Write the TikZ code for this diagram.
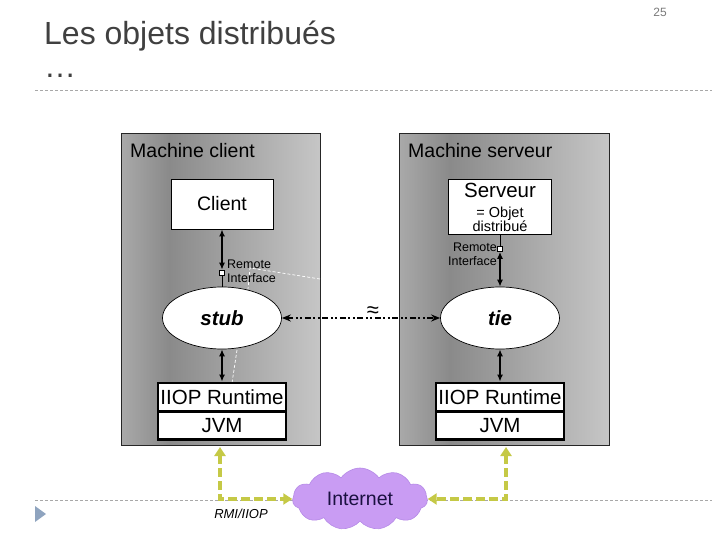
\documentclass[tikz,border=0pt]{standalone}
\usepackage{fontspec}
\setmainfont{Liberation Sans}
\usetikzlibrary{arrows.meta,shapes.geometric,shapes.symbols}
\definecolor{titlegray}{HTML}{404040}
\definecolor{numgray}{HTML}{7A7A7A}
\definecolor{sepgray}{HTML}{A8A8A8}
\definecolor{trigray}{HTML}{8FA4BF}
\definecolor{mA}{HTML}{A9A9A9}
\definecolor{mB}{HTML}{8A8A8A}
\definecolor{mC}{HTML}{C6C6C6}
\definecolor{gline}{HTML}{C5C946}
\definecolor{cloudc}{HTML}{C99CF3}
\definecolor{cloudd}{HTML}{B58AE6}
\definecolor{cloudtext}{HTML}{1A1040}
\pgfdeclarehorizontalshading{machineshade}{100bp}{color(0bp)=(mA); color(25bp)=(mA); color(37bp)=(mB); color(75bp)=(mC); color(100bp)=(mC)}
\newcommand{\myfs}[1]{\fontsize{#1}{#1}\selectfont}
\begin{document}
\begin{tikzpicture}[x=1pt,y=-1pt,
  sepline/.style={draw=sepgray,line width=0.7pt,dash pattern=on 3pt off 2pt},
  machine/.style={draw=black!85,line width=0.6pt,shading=machineshade,anchor=north west,inner sep=0},
  lbl/.style={inner sep=0,font=\myfs{19.5}},
  wbox/.style={draw=black,fill=white,line width=0.8pt,inner sep=0},
  rtbox/.style={draw=black,fill=white,line width=2.8pt,minimum width=128,minimum height=28,inner sep=1pt,font=\myfs{20.5}},
  ell/.style={ellipse,draw=black,fill=white,line width=0.7pt,minimum width=119,minimum height=62,inner sep=0,font=\myfs{20.5}\bfseries\itshape},
  sq/.style={draw=black,fill=white,line width=0.6pt,minimum size=5pt,inner sep=0},
  dbl/.style={{Latex[length=7pt,width=6pt]}-{Latex[length=7pt,width=6pt]},line width=1.8pt},
  thinl/.style={line width=0.9pt},
  dashdot/.style={{Stealth[length=9pt,width=7pt]}-{Stealth[length=9pt,width=7pt]},line width=1.6pt,dash pattern=on 6pt off 2.5pt on 2pt off 2.5pt on 2pt off 2.5pt},
  garrow/.style={{Triangle[length=9pt,width=11pt]}-{Triangle[length=9pt,width=11pt]},draw=gline,line width=4pt,dash pattern=on 9pt off 4pt},
  wdash/.style={draw=white,line width=0.7pt,dash pattern=on 3pt off 2pt},
  ri/.style={inner sep=0,font=\fontsize{12.5}{14}\selectfont}
]
\useasboundingbox (0,0) rectangle (720,540);

% header
\node[anchor=base west,inner sep=0,text=titlegray,font=\myfs{32}] (title) at (44,45) {Les objets distribués};
\node[anchor=base west,inner sep=0,text=titlegray,font=\myfs{32}] (dots) at (44,78) {…};
\node[anchor=base east,inner sep=0,text=numgray,font=\myfs{12}] (pnum) at (667,17) {25};
\draw[sepline] (35,90) -- (712,90);
\draw[sepline] (35,500) -- (712,500);
\fill[trigray] (35,506) -- (46,514) -- (35,522) -- cycle;

% machines
\node[machine,minimum width=199,minimum height=312] (mc) at (121,133) {};
\node[machine,minimum width=210,minimum height=312] (ms) at (399,133) {};
\node[lbl,anchor=base west] (mcl) at (130,158) {Machine client};
\node[lbl,anchor=base west] (msl) at (408,158) {Machine serveur};

% white dashed traces
\draw[wdash] (320,279) -- (250,268) -- (248,289);
\draw[wdash] (237,350) -- (232,383);

% client side
\node[wbox,minimum width=102,minimum height=50,font=\myfs{19.5}] (client) at (222,204) {Client};
\node[sq] (ric) at (222,272.5) {};
\node[ri,anchor=west,align=left] (ricl) at (227,271) {Remote\\Interface};
\node[ell] (stub) at (222,318) {stub};
\node[rtbox] (crt) at (222,397) {IIOP Runtime};
\node[rtbox] (cjvm) at (222,425.5) {JVM};

% server side
\node[wbox,minimum width=103,minimum height=55] (serv) at (500,206.5) {};
\node[anchor=base,inner sep=0,font=\myfs{20.5}] (servt) at (500,198) {Serveur};
\node[anchor=base,inner sep=0,font=\myfs{14.5}] (servo) at (500,218) {= Objet};
\node[anchor=base,inner sep=0,font=\myfs{14.5}] (servd) at (500,232) {distribué};
\node[sq] (ris) at (500,249) {};
\node[ri,anchor=east,align=right] (risl) at (497,254) {Remote\\Interface};
\node[ell] (tie) at (500,318) {tie};
\node[rtbox] (srt) at (500,397) {IIOP Runtime};
\node[rtbox] (sjvm) at (500,425.5) {JVM};

% connectors
\draw[dbl] (client.south) -- (ric.north);
\draw[thinl] (ric.south) -- (stub.north);
\draw[thinl] (serv.south) -- (ris.north);
\draw[dbl] (ris.south) -- (tie.north);
\draw[dbl] (stub.south) -- (crt.north);
\draw[dbl] (tie.south) -- (srt.north);
\draw[dashdot] (stub.east) -- (tie.west);
\node[inner sep=0,font=\myfs{22}] (approx) at (373,312) {≈};

% internet
\node[cloud,cloud puffs=11,cloud puff arc=110,aspect=2.2,fill=cloudc,draw=cloudd,line width=0.6pt,minimum width=135,minimum height=62,inner sep=0,text=cloudtext,font=\myfs{19.5}] (cloud) at (360,499) {Internet};
\coordinate (gl) at (220,447);
\coordinate (gr) at (506,447);
\draw[garrow] (gl) |- (cloud.west);
\draw[garrow] (gr) |- (cloud.east);
\node[anchor=base,inner sep=0,font=\myfs{13}\itshape] (rmi) at (241,518) {RMI/IIOP};
\end{tikzpicture}
\end{document}
